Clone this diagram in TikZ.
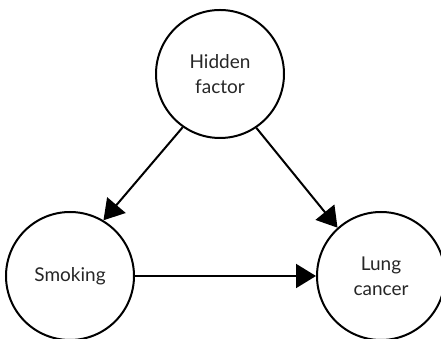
\documentclass[tikz,border=0pt]{standalone}
\usepackage{fontspec}
\setmainfont{Lato}
\usetikzlibrary{arrows.meta}
\tikzset{
    factor/.style={draw, circle, line width=2pt, minimum size=128pt, inner sep=0pt,
        align=center, font=\fontsize{19}{25}\selectfont, text=black!85},
    link/.style={line width=2pt, -{Triangle[length=20pt,width=24pt]}},
}
\begin{document}
\begin{tikzpicture}[x=1pt,y=1pt]
    \useasboundingbox (0,0) rectangle (441,339);
    \node[factor] (hidden) at (220,265) {Hidden\\factor};
    \node[factor] (smoking) at (70,63) {Smoking};
    \node[factor] (cancer) at (381,63) {Lung\\cancer};
    \draw[link] (hidden.235) -- (smoking.59);
    \draw[link] (hidden.304) -- (cancer.132);
    \draw[link] (smoking.east) -- (cancer.west);
\end{tikzpicture}
\end{document}
